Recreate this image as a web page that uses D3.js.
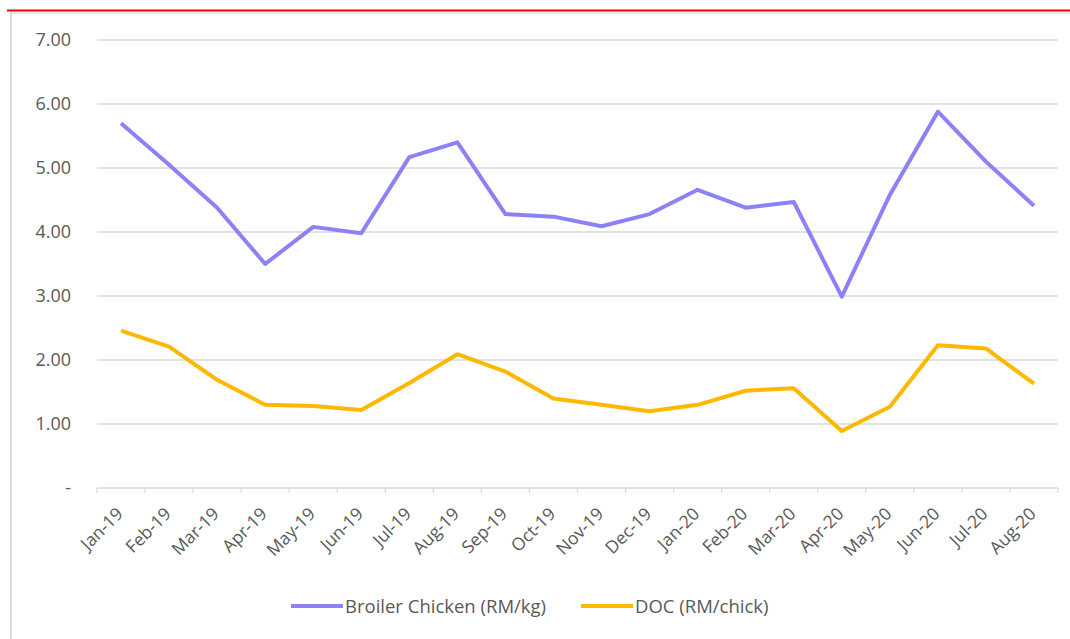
<!DOCTYPE html>
<html>
<head>
<meta charset="utf-8">
<script src="https://cdn.jsdelivr.net/npm/d3@7"></script>
<style>
  html, body { margin: 0; padding: 0; background: #fff; }
  svg { display: block; font-family: "Open Sans", "Liberation Sans", sans-serif; }
</style>
</head>
<body>
<div class="chart-wrapper"></div>
<script>
const months = ['Jan-19','Feb-19','Mar-19','Apr-19','May-19','Jun-19','Jul-19','Aug-19','Sep-19','Oct-19',
  'Nov-19','Dec-19','Jan-20','Feb-20','Mar-20','Apr-20','May-20','Jun-20','Jul-20','Aug-20'];
const broiler = [5.70, 5.05, 4.38, 3.50, 4.08, 3.98, 5.17, 5.40, 4.28, 4.24,
  4.09, 4.28, 4.66, 4.38, 4.47, 2.99, 4.58, 5.88, 5.10, 4.41];
const doc = [2.46, 2.21, 1.69, 1.30, 1.28, 1.22, 1.64, 2.09, 1.82, 1.40,
  1.30, 1.20, 1.30, 1.52, 1.56, 0.89, 1.27, 2.23, 2.18, 1.63];
const yTicks = [0, 1, 2, 3, 4, 5, 6, 7];
const seriesNames = ['Broiler Chicken (RM/kg)', 'DOC (RM/chick)'];
const seriesColors = ['#8C82F8', '#FFB800'];

const width = 1070, height = 639;
const margin = {top: 40, right: 12, bottom: 151, left: 97};

const svg = d3.select('.chart-wrapper')
.append('svg')
.attr('width', width)
.attr('height', height);

// frame bits from the cropped screenshot
svg.append('line')
.attr('x1', 11).attr('x2', 11).attr('y1', 12).attr('y2', height)
.attr('stroke', '#dcdcdc').attr('stroke-width', 2);
svg.append('line')
.attr('x1', 12).attr('x2', width).attr('y1', 13).attr('y2', 13)
.attr('stroke', '#ececec').attr('stroke-width', 2);
svg.append('line')
.attr('x1', 7).attr('x2', width).attr('y1', 10.5).attr('y2', 10.5)
.attr('stroke', '#ff0000').attr('stroke-width', 2);

let x = d3.scaleBand()
.domain(months)
.range([margin.left, width - margin.right]);

let y = d3.scaleLinear()
.domain([0, 7])
.range([height - margin.bottom, margin.top]);

// gridlines
svg.append('g')
.selectAll('line')
.data(yTicks)
.enter()
.append('line')
.attr('x1', margin.left)
.attr('x2', width - margin.right)
.attr('y1', d => y(d))
.attr('y2', d => y(d))
.attr('stroke', '#d9d9d9')
.attr('stroke-width', 1.3);

// y labels
svg.append('g')
.selectAll('text')
.data(yTicks)
.enter()
.append('text')
.attr('x', 71)
.attr('y', d => y(d))
.attr('dy', '0.36em')
.attr('text-anchor', 'end')
.attr('fill', '#595959')
.style('font-size', '18px')
.text(d => d === 0 ? '-' : d.toFixed(2));

// x tick marks at band edges
const edges = months.map(m => x(m)).concat([x(months[months.length - 1]) + x.bandwidth()]);
svg.append('g')
.selectAll('line')
.data(edges)
.enter()
.append('line')
.attr('x1', d => d).attr('x2', d => d)
.attr('y1', y(0)).attr('y2', y(0) + 5)
.attr('stroke', '#d9d9d9')
.attr('stroke-width', 1.3);

// x labels
svg.append('g')
.selectAll('text')
.data(months)
.enter()
.append('text')
.attr('transform', d => `translate(${x(d) + x.bandwidth() / 2 + 3},${y(0) + 27}) rotate(-45)`)
.attr('text-anchor', 'end')
.attr('fill', '#595959')
.style('font-size', '17.5px')
.text(d => d);

const line = d3.line()
.x((d, i) => x(months[i]) + x.bandwidth() / 2)
.y(d => y(d));

[broiler, doc].forEach((values, i) => {
	svg.append('path')
	.datum(values)
	.attr('d', line)
	.attr('fill', 'none')
	.attr('stroke', seriesColors[i])
	.attr('stroke-width', 4)
	.attr('stroke-linejoin', 'round');
});

// legend
const legendX = [291, 581];
const legend = svg.append('g');
seriesNames.forEach((name, i) => {
	legend.append('line')
	.attr('x1', legendX[i]).attr('x2', legendX[i] + 52)
	.attr('y1', 606).attr('y2', 606)
	.attr('stroke', seriesColors[i])
	.attr('stroke-width', 4);
	legend.append('text')
	.attr('x', legendX[i] + 54)
	.attr('y', 606)
	.attr('dy', '0.36em')
	.attr('fill', '#595959')
	.style('font-size', '18.5px')
	.text(name);
});
</script>
</body>
</html>
